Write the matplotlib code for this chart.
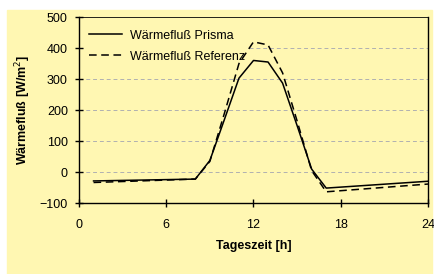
import matplotlib.pyplot as plt
from matplotlib.patches import Rectangle

plt.rcParams['font.family'] = ['Liberation Sans', 'DejaVu Sans']

# data
hours = [1, 8, 9, 10, 11, 12, 13, 14, 15, 16, 17, 24]
prisma = [-28, -22, 38, 170, 303, 360, 355, 287, 150, 10, -51, -29]
referenz = [-33, -22, 35, 190, 350, 420, 410, 320, 165, 5, -63, -38]

x_ticks = [0, 6, 12, 18, 24]
y_ticks = [-100, 0, 100, 200, 300, 400, 500]

bg = '#FFF7B2'

fig = plt.figure(figsize=(4.35, 2.74), dpi=100, facecolor='white')
fig.patches.append(Rectangle((7 / 435, 0), 425 / 435, 264 / 274,
                             transform=fig.transFigure, color=bg, zorder=-1))

ax = fig.add_axes([79 / 435, 1 - 203.3 / 274, 349 / 435, 186.3 / 274])
ax.set_facecolor(bg)

# grey dashed grid lines
for y in y_ticks[1:-1]:
    ax.axhline(y, color='#b0b0b0', lw=0.7, ls=(0, (4, 3)), zorder=1)

ax.plot(hours, prisma, color='black', lw=1.1, label='Wärmefluß Prisma', zorder=3)
ax.plot(hours, referenz, color='black', lw=1.1, ls=(0, (5, 3)),
        label='Wärmefluß Referenz', zorder=3)

ax.set_xlim(0, 24)
ax.set_ylim(-100, 500)
ax.set_xticks(x_ticks)
ax.set_yticks(y_ticks)
ax.tick_params(direction='inout', length=6, width=1, labelsize=9, pad=5)
ax.tick_params(axis='x', pad=8)
for s in ['left', 'bottom', 'right', 'top']:
    ax.spines[s].set_linewidth(1.0)
ax.spines['top'].set_linewidth(0.6)

ax.set_xlabel('Tageszeit [h]', fontsize=9, fontweight='bold', labelpad=7)
ax.set_ylabel('Wärmefluß [W/m$^2$]', fontsize=9, fontweight='bold', labelpad=5)

leg = ax.legend(loc='upper left', frameon=True, fontsize=9, handlelength=2.7,
                handletextpad=0.6, borderaxespad=0.3, labelspacing=0.7,
                borderpad=0.2, bbox_to_anchor=(0.01, 0.965), fancybox=False)
leg.get_frame().set_facecolor(bg)
leg.get_frame().set_edgecolor('none')
leg.get_frame().set_alpha(1)
leg.set_zorder(2)

plt.savefig('out.png', dpi=100, facecolor=fig.get_facecolor())
